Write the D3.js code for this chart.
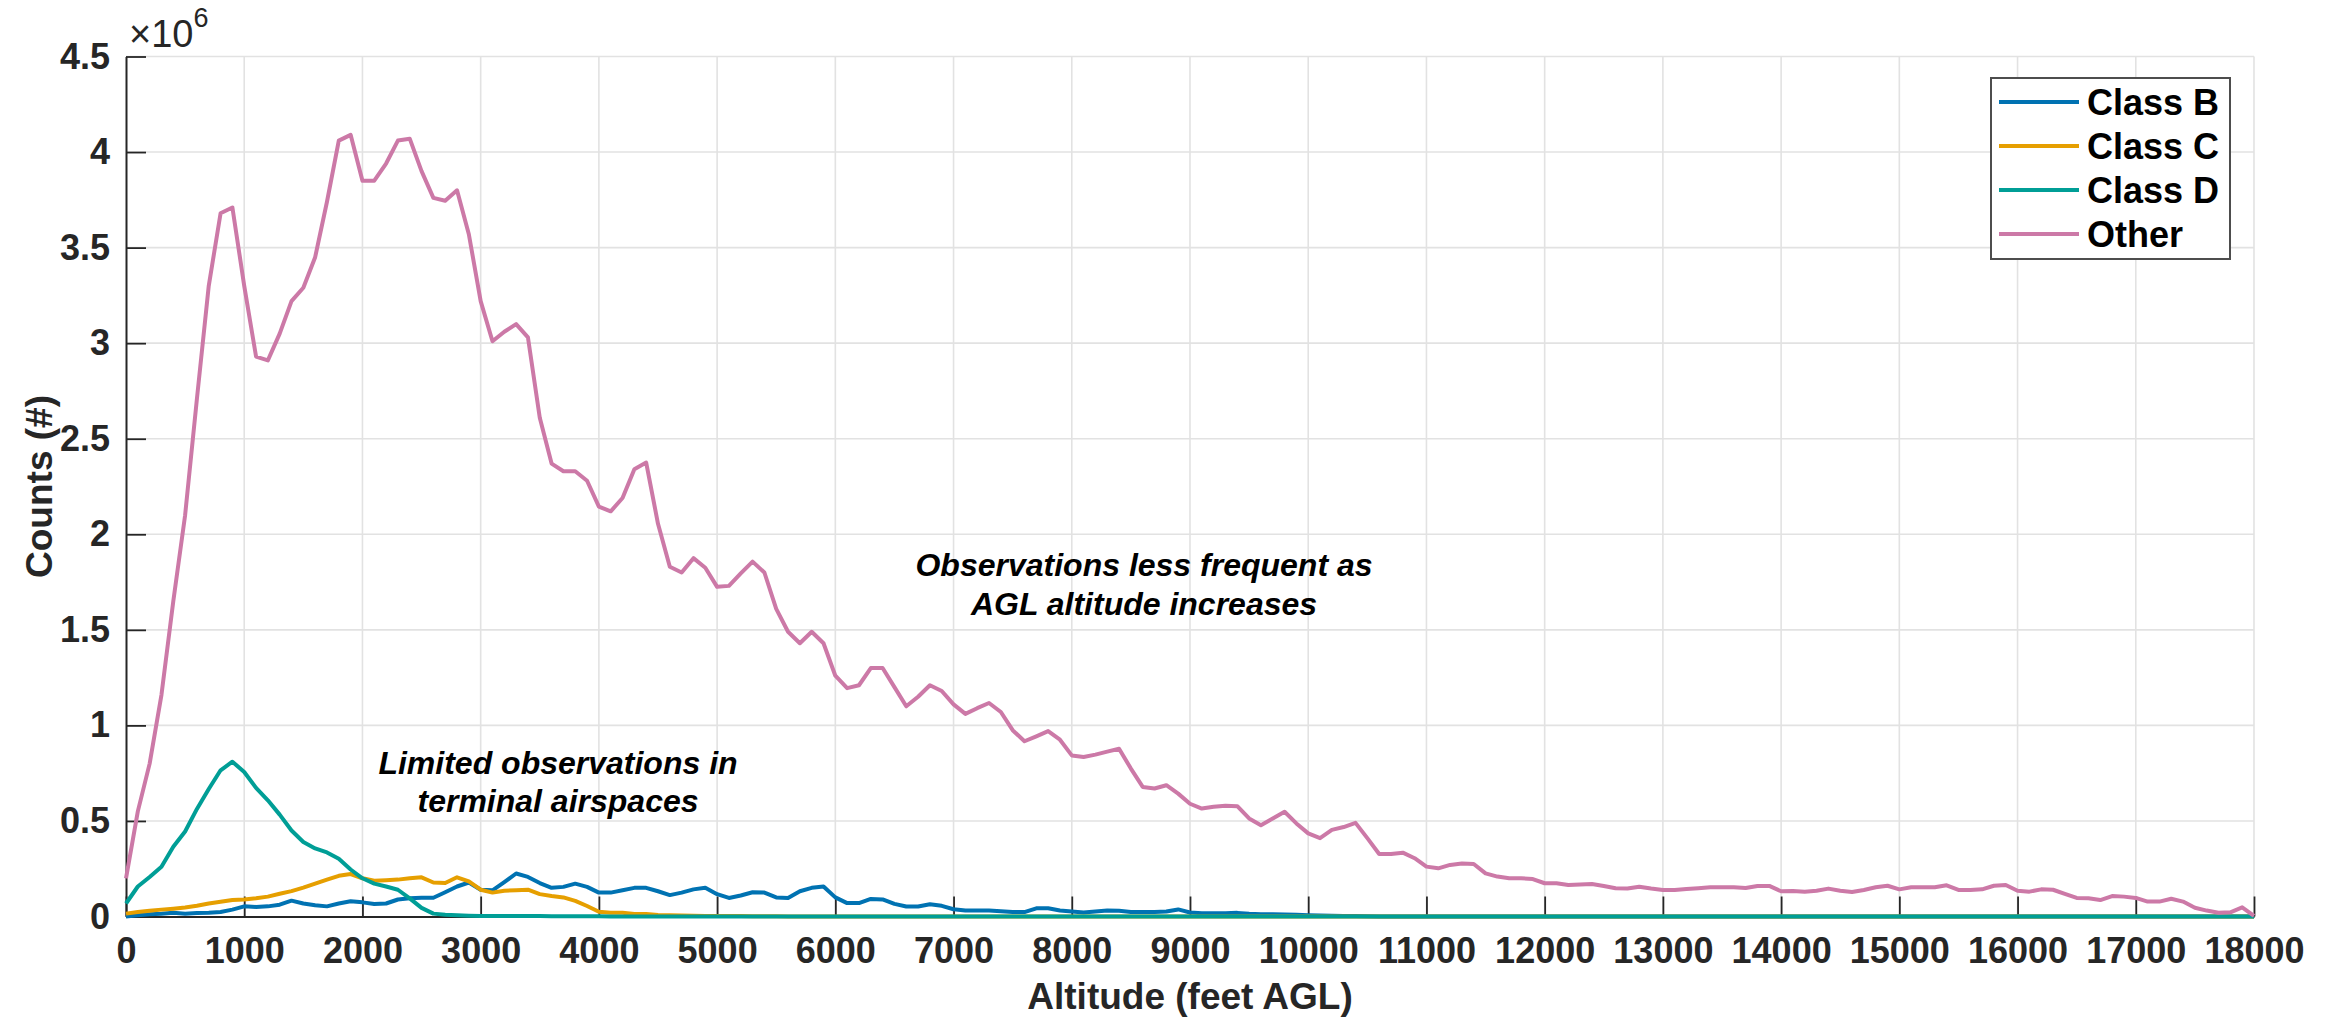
<!DOCTYPE html>
<html lang="en">
<head>
<meta charset="UTF-8">
<title>Counts by AGL altitude per airspace class</title>
<script src="https://d3js.org/d3.v7.min.js"></script>
<style>
  body { margin: 0; background: #fff; }
  svg { display: block; font-family: "Liberation Sans", Arial, sans-serif; }
  .tick text { font-size: 36px; font-weight: bold; fill: #262626; }
  .tick line { stroke: #262626; stroke-width: 1.8; }
  .domain { stroke: #262626; stroke-width: 2; }
  .grid line { stroke: #e2e2e2; stroke-width: 1.6; }
</style>
</head>
<body>
<svg id="chart" width="2330" height="1018"></svg>
<script>
// altitude bins (feet AGL), one every 100 ft
const altitudes = d3.range(0, 18001, 100);

// counts in millions
const classB = [
  0, 0.006, 0.012, 0.015, 0.02, 0.015, 0.018, 0.02, 0.024, 0.036,
  0.053, 0.05, 0.053, 0.062, 0.083, 0.068, 0.059, 0.053, 0.068, 0.08,
  0.074, 0.065, 0.068, 0.089, 0.095, 0.098, 0.098, 0.127, 0.157, 0.178,
  0.14, 0.137, 0.18, 0.225, 0.207, 0.175, 0.15, 0.155, 0.172, 0.155,
  0.125, 0.125, 0.137, 0.15, 0.15, 0.132, 0.112, 0.125, 0.142, 0.15,
  0.117, 0.097, 0.11, 0.127, 0.125, 0.10, 0.097, 0.132, 0.15, 0.157,
  0.10, 0.07, 0.07, 0.092, 0.089, 0.066, 0.052, 0.052, 0.064, 0.056,
  0.038, 0.031, 0.031, 0.031, 0.028, 0.023, 0.023, 0.043, 0.043, 0.031,
  0.026, 0.021, 0.026, 0.031, 0.03, 0.024, 0.024, 0.024, 0.026, 0.037,
  0.021, 0.017, 0.017, 0.017, 0.019, 0.014, 0.012, 0.012, 0.01, 0.009,
  0.007, 0.005, 0.004, 0.003, 0.002, 0.001, 0, 0, 0, 0,
  0, 0, 0, 0, 0, 0, 0, 0, 0, 0,
  0, 0, 0, 0, 0, 0, 0, 0, 0, 0,
  0, 0, 0, 0, 0, 0, 0, 0, 0, 0,
  0, 0, 0, 0, 0, 0, 0, 0, 0, 0,
  0, 0, 0, 0, 0, 0, 0, 0, 0, 0,
  0, 0, 0, 0, 0, 0, 0, 0, 0, 0,
  0, 0, 0, 0, 0, 0, 0, 0, 0, 0,
  0
];

const classC = [
  0.015, 0.024, 0.03, 0.036, 0.041, 0.047, 0.056, 0.068, 0.077, 0.086,
  0.089, 0.095, 0.104, 0.119, 0.133, 0.151, 0.172, 0.193, 0.213, 0.222,
  0.20, 0.187, 0.19, 0.193, 0.20, 0.205, 0.178, 0.175, 0.205, 0.184,
  0.14, 0.125, 0.135, 0.137, 0.14, 0.117, 0.107, 0.10, 0.082, 0.055,
  0.025, 0.02, 0.02, 0.013, 0.013, 0.008, 0.006, 0.005, 0.004, 0.003,
  0.002, 0.002, 0.002, 0.001, 0.001, 0.001, 0, 0, 0, 0,
  0, 0, 0, 0, 0, 0, 0, 0, 0, 0,
  0, 0, 0, 0, 0, 0, 0, 0, 0, 0,
  0, 0, 0, 0, 0, 0, 0, 0, 0, 0,
  0, 0, 0, 0, 0, 0, 0, 0, 0, 0,
  0, 0, 0, 0, 0, 0, 0, 0, 0, 0,
  0, 0, 0, 0, 0, 0, 0, 0, 0, 0,
  0, 0, 0, 0, 0, 0, 0, 0, 0, 0,
  0, 0, 0, 0, 0, 0, 0, 0, 0, 0,
  0, 0, 0, 0, 0, 0, 0, 0, 0, 0,
  0, 0, 0, 0, 0, 0, 0, 0, 0, 0,
  0, 0, 0, 0, 0, 0, 0, 0, 0, 0,
  0, 0, 0, 0, 0, 0, 0, 0, 0, 0,
  0
];

const classD = [
  0.068, 0.157, 0.207, 0.26, 0.365, 0.445, 0.563, 0.667, 0.765, 0.81,
  0.756, 0.673, 0.608, 0.533, 0.45, 0.39, 0.356, 0.335, 0.302, 0.246,
  0.20, 0.172, 0.157, 0.14, 0.095, 0.045, 0.015, 0.009, 0.006, 0.004,
  0.003, 0.003, 0.002, 0.002, 0.002, 0.002, 0.001, 0.001, 0.001, 0.001,
  0.001, 0, 0, 0, 0, 0, 0, 0, 0, 0,
  0, 0, 0, 0, 0, 0, 0, 0, 0, 0,
  0, 0, 0, 0, 0, 0, 0, 0, 0, 0,
  0, 0, 0, 0, 0, 0, 0, 0, 0, 0,
  0, 0, 0, 0, 0, 0, 0, 0, 0, 0,
  0, 0, 0, 0, 0, 0, 0, 0, 0, 0,
  0, 0, 0, 0, 0, 0, 0, 0, 0, 0,
  0, 0, 0, 0, 0, 0, 0, 0, 0, 0,
  0, 0, 0, 0, 0, 0, 0, 0, 0, 0,
  0, 0, 0, 0, 0, 0, 0, 0, 0, 0,
  0, 0, 0, 0, 0, 0, 0, 0, 0, 0,
  0, 0, 0, 0, 0, 0, 0, 0, 0, 0,
  0, 0, 0, 0, 0, 0, 0, 0, 0, 0,
  0, 0, 0, 0, 0, 0, 0, 0, 0, 0,
  0
];

const other = [
  0.20, 0.55, 0.80, 1.16, 1.65, 2.10, 2.71, 3.30, 3.68, 3.71,
  3.30, 2.93, 2.91, 3.05, 3.22, 3.29, 3.45, 3.74, 4.06, 4.09,
  3.85, 3.85, 3.94, 4.06, 4.07, 3.90, 3.76, 3.745, 3.80, 3.57,
  3.22, 3.01, 3.06, 3.10, 3.03, 2.61, 2.37, 2.33, 2.33, 2.28,
  2.145, 2.12, 2.19, 2.34, 2.375, 2.055, 1.83, 1.80, 1.875, 1.825,
  1.725, 1.73, 1.795, 1.857, 1.80, 1.61, 1.49, 1.43, 1.49, 1.43,
  1.26, 1.195, 1.21, 1.30, 1.30, 1.20, 1.10, 1.15, 1.21, 1.18,
  1.11, 1.06, 1.09, 1.117, 1.07, 0.975, 0.917, 0.943, 0.97, 0.925,
  0.843, 0.835, 0.847, 0.863, 0.878, 0.774, 0.678, 0.67, 0.687, 0.643,
  0.59, 0.565, 0.574, 0.58, 0.577, 0.513, 0.478, 0.513, 0.548, 0.487,
  0.435, 0.41, 0.453, 0.468, 0.49, 0.41, 0.327, 0.327, 0.334, 0.305,
  0.261, 0.252, 0.27, 0.277, 0.275, 0.226, 0.209, 0.20, 0.20, 0.196,
  0.174, 0.174, 0.165, 0.167, 0.17, 0.16, 0.148, 0.146, 0.156, 0.146,
  0.139, 0.139, 0.144, 0.148, 0.153, 0.153, 0.153, 0.149, 0.16, 0.16,
  0.132, 0.134, 0.13, 0.135, 0.146, 0.135, 0.128, 0.139, 0.153, 0.161,
  0.142, 0.153, 0.153, 0.153, 0.163, 0.139, 0.139, 0.142, 0.161, 0.165,
  0.135, 0.13, 0.142, 0.14, 0.118, 0.097, 0.095, 0.086, 0.107, 0.104,
  0.097, 0.078, 0.078, 0.093, 0.078, 0.046, 0.031, 0.02, 0.022, 0.048,
  0.003
];

const seriesNames = ["Class B", "Class C", "Class D", "Other"];
const seriesValues = [classB, classC, classD, other];
const seriesColors = ["#0072B2", "#E69F00", "#009E96", "#CC79A7"];

const xTicks = d3.range(0, 18001, 1000);
const yTicks = [0, 0.5, 1, 1.5, 2, 2.5, 3, 3.5, 4, 4.5];

const svg = d3.select("#chart");
const plotLeft = 126, plotRight = 2254, plotTop = 56.5, plotBottom = 916.5;

const x = d3.scaleLinear().domain([0, 18000]).range([plotLeft, plotRight]);
const y = d3.scaleLinear().domain([0, 4.5]).range([plotBottom, plotTop]);

// grid
const grid = svg.append("g").attr("class", "grid");
grid.selectAll(".gx").data(xTicks.slice(1)).enter().append("line")
    .attr("x1", d => x(d)).attr("x2", d => x(d))
    .attr("y1", plotTop).attr("y2", plotBottom);
grid.selectAll(".gy").data(yTicks.slice(1)).enter().append("line")
    .attr("x1", plotLeft).attr("x2", plotRight)
    .attr("y1", d => y(d)).attr("y2", d => y(d));

// axes, ticks pointing inward like the original
svg.append("g")
    .attr("transform", `translate(0,${plotBottom})`)
    .call(d3.axisBottom(x).tickValues(xTicks).tickFormat(d3.format("d"))
        .tickSize(-20).tickSizeOuter(0).tickPadding(21));

svg.append("g")
    .attr("transform", `translate(${plotLeft},0)`)
    .call(d3.axisLeft(y).tickValues(yTicks).tickFormat(d => String(d))
        .tickSize(-20).tickSizeOuter(0).tickPadding(16));

// lines
const line = d3.line()
    .x((d, i) => x(altitudes[i]))
    .y(d => y(d));

seriesValues.forEach((vals, i) => {
    svg.append("path")
        .datum(vals)
        .attr("fill", "none")
        .attr("stroke", seriesColors[i])
        .attr("stroke-width", 4)
        .attr("stroke-linejoin", "round")
        .attr("d", line);
});

// exponent label
const expo = svg.append("text")
    .attr("x", 129).attr("y", 47)
    .attr("fill", "#262626").attr("font-size", 38);
expo.append("tspan").text("\u00d710");
expo.append("tspan").attr("font-size", 27).attr("dy", -20).text("6");

// axis labels
svg.append("text")
    .attr("x", (plotLeft + plotRight) / 2).attr("y", 1009)
    .attr("text-anchor", "middle")
    .attr("font-size", 37).attr("font-weight", "bold").attr("fill", "#262626")
    .text("Altitude (feet AGL)");

svg.append("text")
    .attr("transform", `translate(52,${(plotTop + plotBottom) / 2}) rotate(-90)`)
    .attr("text-anchor", "middle")
    .attr("font-size", 37).attr("font-weight", "bold").attr("fill", "#262626")
    .text("Counts (#)");

// annotations
function note(cx, y0, lines) {
    const t = svg.append("text")
        .attr("text-anchor", "middle")
        .attr("font-size", 32).attr("font-weight", "bold").attr("font-style", "italic")
        .attr("fill", "#000");
    lines.forEach((s, i) => {
        t.append("tspan").attr("x", cx).attr("y", y0 + i * 38.5).text(s);
    });
}
note(1144, 576, ["Observations less frequent as", "AGL altitude increases"]);
note(558, 773.5, ["Limited observations in", "terminal airspaces"]);

// legend
const legend = svg.append("g");
legend.append("rect")
    .attr("x", 1991).attr("y", 78).attr("width", 239).attr("height", 181)
    .attr("fill", "#fff").attr("stroke", "#4d4d4d").attr("stroke-width", 2);
seriesNames.forEach((name, i) => {
    const cy = 102 + i * 44;
    legend.append("line")
        .attr("x1", 1999).attr("x2", 2079).attr("y1", cy).attr("y2", cy)
        .attr("stroke", seriesColors[i]).attr("stroke-width", 4);
    legend.append("text")
        .attr("x", 2087).attr("y", cy).attr("dy", "0.36em")
        .attr("font-size", 36).attr("font-weight", "bold").attr("fill", "#000")
        .text(name);
});
</script>
</body>
</html>
